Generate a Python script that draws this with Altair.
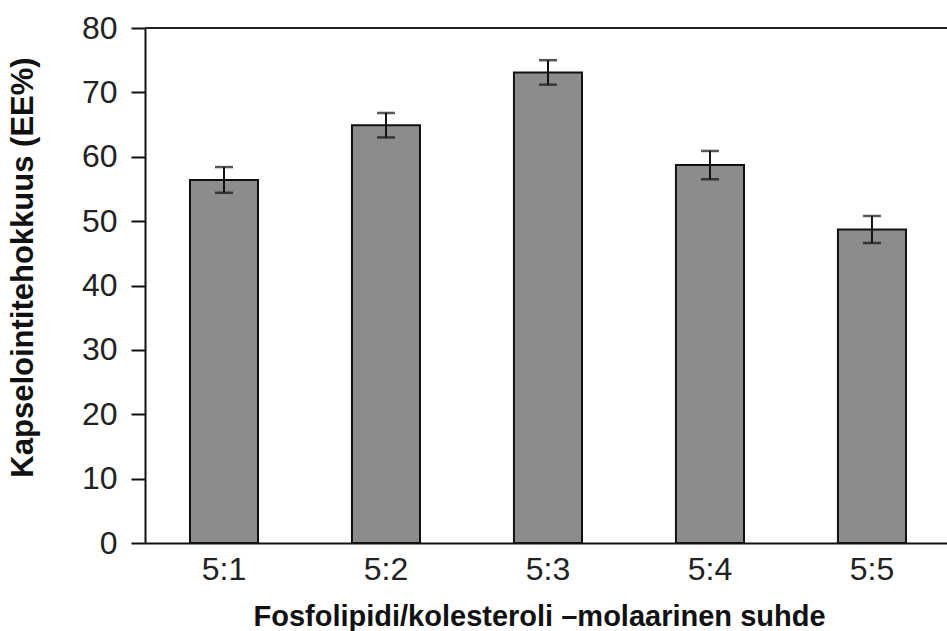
import altair as alt
import pandas as pd

# Phospholipid/cholesterol molar ratios and encapsulation efficiency
ratios = ["5:1", "5:2", "5:3", "5:4", "5:5"]
ee_mean = [56.4, 64.9, 73.1, 58.7, 48.7]
ee_err = [2.0, 1.9, 1.9, 2.2, 2.1]

df = pd.DataFrame({"ratio": ratios, "ee": ee_mean, "err": ee_err})
df["lo"] = df["ee"] - df["err"]
df["hi"] = df["ee"] + df["err"]

FONT = "Liberation Sans"

x_scale = alt.Scale(paddingInner=0.58, paddingOuter=0.2654, align=0.523)
y_scale = alt.Scale(domain=[0, 80], nice=False)

x_enc = alt.X(
    "ratio:N",
    scale=x_scale,
    sort=ratios,
    axis=alt.Axis(
        title="Fosfolipidi/kolesteroli –molaarinen suhde",
        labelAngle=0,
        ticks=False,
        tickSize=0,
        labelPadding=11,
        labelFontSize=32,
        labelFont=FONT,
        labelColor="#222",
        domainColor="#111",
        domainWidth=2,
        titleFont=FONT,
        titleFontSize=29,
        titleFontWeight="bold",
        titleColor="#111",
        titleY=59,
        titleX=394,
    ),
)

bars = alt.Chart(df).mark_bar(
    color="#8c8c8c", stroke="#111", strokeWidth=2
).encode(
    x=x_enc,
    y=alt.Y(
        "ee:Q",
        scale=y_scale,
        axis=alt.Axis(
            title="Kapselointitehokkuus (EE%)",
            values=[0, 10, 20, 30, 40, 50, 60, 70, 80],
            grid=False,
            tickSize=14,
            tickWidth=2,
            tickColor="#111",
            domainColor="#111",
            domainWidth=2,
            labelPadding=14,
            labelFontSize=32,
            labelFont=FONT,
            labelColor="#222",
            titleFont=FONT,
            titleFontSize=31,
            titleFontWeight="bold",
            titleColor="#111",
            titleY=239,
            titleX=-106,
        ),
    ),
)

whiskers = alt.Chart(df).mark_rule(color="#111", strokeWidth=2).encode(
    x=alt.X("ratio:N", scale=x_scale, sort=ratios),
    y="lo:Q",
    y2="hi:Q",
)

caps_hi = alt.Chart(df).mark_tick(
    color="#111", size=18, thickness=2.5, orient="horizontal"
).encode(x=alt.X("ratio:N", scale=x_scale, sort=ratios), y="hi:Q")

caps_lo = alt.Chart(df).mark_tick(
    color="#111", size=18, thickness=2.5, orient="horizontal"
).encode(x=alt.X("ratio:N", scale=x_scale, sort=ratios), y="lo:Q")

# Top frame line at the maximum of the y range
top = alt.Chart(pd.DataFrame({"ymax": [80]})).mark_rule(
    color="#222", strokeWidth=2
).encode(y=alt.Y("ymax:Q", scale=y_scale))

chart = (
    alt.layer(bars, whiskers, caps_hi, caps_lo, top)
    .properties(
        width=802,
        height=515,
        autosize=alt.AutoSizeParams(type="none"),
        padding={"left": 145, "top": 28, "right": 0, "bottom": 88},
        background="white",
    )
    .configure_view(stroke=None)
)

chart.save("out.html", embed_options={"renderer": "svg", "actions": False})
